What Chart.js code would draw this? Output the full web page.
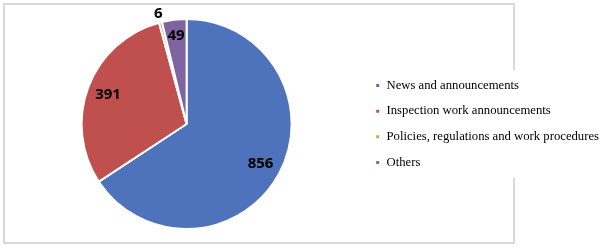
<!DOCTYPE html>
<html>
<head>
<meta charset="utf-8">
<script src="https://cdn.jsdelivr.net/npm/chart.js@4.4.0/dist/chart.umd.min.js"></script>
<style>
  html, body { margin: 0; padding: 0; background: #fff; overflow: hidden; }
  #wrap { position: relative; width: 600px; height: 250px; overflow: hidden; }
  #frame { position: absolute; left: 3px; top: 3px; width: 512px; height: 241px; box-sizing: border-box; border: 2px solid #d9d9d9; }
  #chart { position: absolute; left: 0; top: 0; }
</style>
</head>
<body>
<div id="wrap">
  <div id="frame"></div>
  <canvas id="chart" width="612" height="250"></canvas>
</div>
<script>
  // Chart data.
  const categories = [
    'News and announcements',
    'Inspection work announcements',
    'Policies, regulations and work procedures',
    'Others'
  ];
  const counts = [856, 391, 6, 49];
  const sliceColors = ['#4F72BD', '#C0504D', '#9BBB59', '#8064A2'];

  const total = counts.reduce((a, b) => a + b, 0);

  // White patch behind the legend, it cuts the frame line like in Excel.
  const legendBackground = {
    id: 'legendBackground',
    beforeDraw: function (chart) {
      const legend = chart.legend;
      if (!legend || !legend.legendHitBoxes.length) {
        return;
      }
      const boxes = legend.legendHitBoxes;
      const top = boxes[0].top - 9;
      const bottom = boxes[boxes.length - 1].top + boxes[boxes.length - 1].height + 9;
      const ctx = chart.ctx;
      ctx.save();
      ctx.fillStyle = '#fff';
      ctx.fillRect(boxes[0].left - 8, top, chart.width, bottom - top);
      ctx.restore();
    }
  };

  // Values on the slices.
  const sliceValues = {
    id: 'sliceValues',
    afterDatasetsDraw: function (chart) {
      const ctx = chart.ctx;
      const meta = chart.getDatasetMeta(0);
      ctx.save();
      ctx.font = 'bold 15px "Noto Sans"';
      ctx.fillStyle = '#000';
      ctx.textAlign = 'center';
      ctx.textBaseline = 'middle';
      meta.data.forEach(function (arc, i) {
        const p = arc.getProps(['x', 'y', 'startAngle', 'endAngle', 'outerRadius'], true);
        const mid = (p.startAngle + p.endAngle) / 2;
        const share = counts[i] / total;
        let r = p.outerRadius * 0.8;
        if (share < 0.02) {
          r = p.outerRadius + 9;
        } else if (share < 0.05) {
          r = p.outerRadius * 0.85;
        }
        ctx.fillText(String(counts[i]), p.x + Math.cos(mid) * r, p.y + Math.sin(mid) * r);
      });
      ctx.restore();
    }
  };

  new Chart(document.getElementById('chart'), {
    type: 'pie',
    data: {
      labels: categories,
      datasets: [{
        data: counts,
        backgroundColor: sliceColors,
        borderColor: '#fff',
        borderWidth: 2
      }]
    },
    options: {
      responsive: false,
      animation: false,
      devicePixelRatio: 1,
      layout: {
        padding: { left: 11, right: 3, top: 18, bottom: 20 }
      },
      plugins: {
        legend: {
          position: 'right',
          labels: {
            boxWidth: 5,
            boxHeight: 5,
            padding: 13,
            color: '#000',
            font: { family: '"Liberation Serif", "Times New Roman", serif', size: 12.7 }
          }
        },
        tooltip: { enabled: false }
      }
    },
    plugins: [legendBackground, sliceValues]
  });
</script>
</body>
</html>
